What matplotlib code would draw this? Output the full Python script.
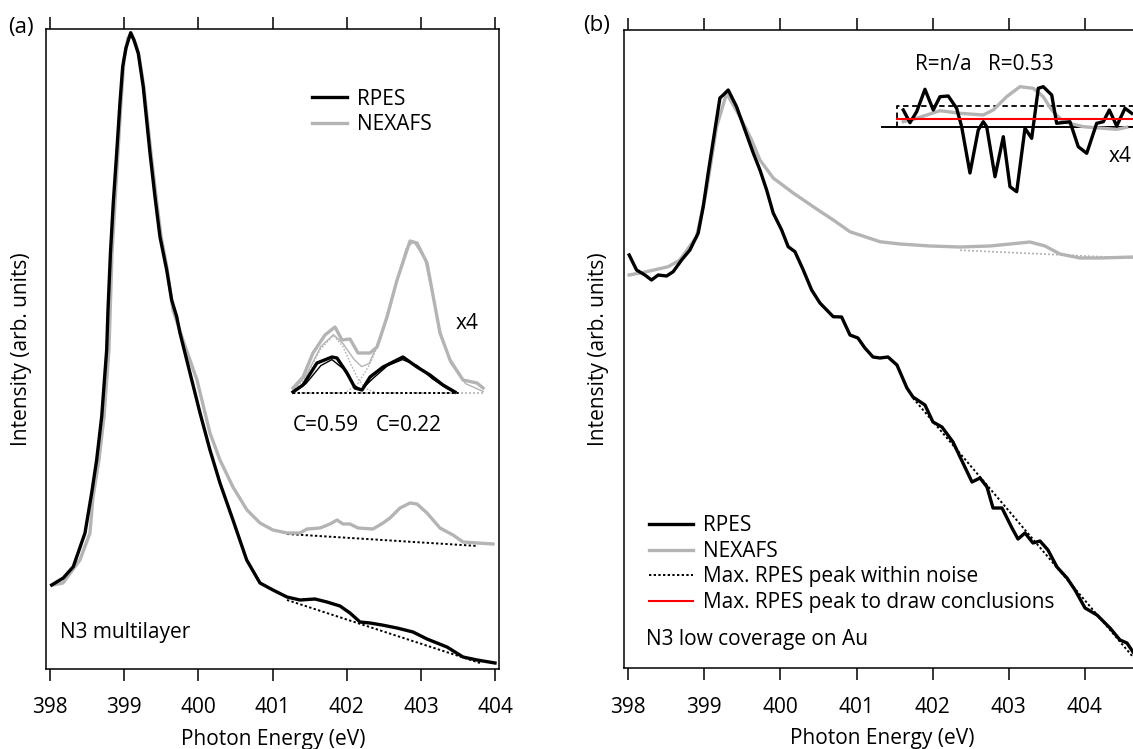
import matplotlib
matplotlib.use('Agg')
import matplotlib.pyplot as plt

plt.rcParams['font.family'] = ['Open Sans', 'DejaVu Sans']
plt.rcParams['font.size'] = 15

GRAY = '#b4b4b4'

# ---------------- panel (a): N3 multilayer ----------------
a_rpes_e = [398.023, 398.179, 398.314, 398.472, 398.562, 398.629, 398.697, 398.764, 398.782,
            398.815, 398.853, 398.899, 398.943, 398.980, 399.024, 399.088, 399.132, 399.190,
            399.257, 399.348, 399.415, 399.482, 399.573, 399.640, 399.708, 399.752, 399.887,
            400.022, 400.156, 400.291, 400.466, 400.651, 400.830, 401.005, 401.194, 401.369,
            401.571, 401.733, 401.908, 402.043, 402.178, 402.313, 402.474, 402.677, 402.892,
            403.081, 403.350, 403.566, 403.755, 403.997]
a_rpes_i = [83.6, 90.6, 101.9, 135.6, 175.6, 208.6, 251.9, 318.6, 358.6,
            415.6, 465.6, 515.6, 565.6, 601.9, 620.6, 635.9, 628.6, 615.3,
            581.9, 515.6, 471.9, 431.9, 398.6, 368.6, 351.9, 335.6, 295.6,
            255.6, 218.6, 185.6, 148.6, 108.6, 85.6, 78.6, 71.6, 68.6,
            69.6, 66.6, 62.6, 55.6, 46.6, 45.6, 43.6, 40.6, 36.6,
            29.6, 21.6, 11.6, 8.6, 5.6]

a_nex_e = [398.040, 398.175, 398.404, 398.539, 398.580, 398.660, 398.728, 398.795, 398.836,
           398.876, 398.916, 398.957, 398.997, 399.051, 399.092, 399.146, 399.199, 399.267,
           399.361, 399.429, 399.496, 399.577, 399.658, 399.792, 399.981, 400.156, 400.291,
           400.466, 400.655, 400.830, 401.005, 401.194, 401.369, 401.464, 401.639, 401.774,
           401.868, 401.949, 402.043, 402.151, 402.353, 402.488, 402.582, 402.717, 402.852,
           402.946, 403.081, 403.256, 403.431, 403.566, 403.755, 403.970]
a_nex_i = [83.6, 85.6, 108.6, 135.6, 171.6, 208.6, 251.6, 318.6, 415.6,
           465.6, 515.6, 565.6, 608.6, 630.6, 634.6, 626.6, 613.6, 580.6,
           515.6, 472.6, 432.6, 400.6, 358.6, 328.6, 288.6, 235.6, 208.6,
           181.6, 158.6, 145.6, 138.6, 135.6, 135.6, 139.6, 140.6, 144.6,
           148.6, 144.6, 144.6, 140.6, 139.6, 145.6, 150.6, 160.6, 165.6,
           164.6, 155.6, 140.6, 133.6, 126.6, 125.6, 124.6]

a_nex_base_e = [401.194, 403.768]
a_nex_base_i = [134.6, 122.6]
a_rpes_base_e = [401.194, 403.795]
a_rpes_base_i = [68.6, 5.6]

# inset (x4 difference spectra)
a_ins_base_e = [401.275, 403.836]
a_ins_base_i = [275.9, 275.9]

a_ins_nex_e = [401.275, 401.410, 401.544, 401.706, 401.841, 401.935, 402.043, 402.151, 402.313,
               402.407, 402.542, 402.677, 402.852, 402.946, 403.081, 403.256, 403.391, 403.566,
               403.755, 403.836]
a_ins_nex_i = [280.6, 291.6, 315.6, 333.6, 341.6, 328.6, 329.6, 315.6, 315.6,
               321.6, 351.6, 388.6, 427.6, 425.6, 405.6, 335.6, 308.6, 288.6,
               285.6, 280.6]
a_ins_nex_fit_e = [401.275, 401.45, 401.65, 401.82, 401.95, 402.1, 402.2, 402.3, 402.45,
                   402.6, 402.8, 402.9, 403.05, 403.25, 403.4, 403.6, 403.84]
a_ins_nex_fit_i = [279, 293, 322, 334, 325, 309, 302, 305, 330,
                   370, 420, 427, 410, 340, 305, 285, 277]
a_ins_nex_c1_e = [401.275, 401.45, 401.65, 401.82, 401.95, 402.05, 402.15, 402.25, 402.4]
a_ins_nex_c1_i = [277, 292, 320, 333, 322, 305, 290, 280, 276]
a_ins_nex_c2_e = [402.0, 402.15, 402.3, 402.45, 402.6]
a_ins_nex_c2_i = [277, 285, 303, 328, 365]

a_ins_rpes_e = [401.275, 401.410, 401.598, 401.801, 401.868, 402.003, 402.111, 402.205, 402.313,
                402.488, 402.757, 402.946, 403.121, 403.296, 403.458]
a_ins_rpes_i = [276.6, 283.6, 305.6, 311.6, 310.6, 295.6, 280.6, 278.6, 291.6,
                301.6, 311.6, 301.6, 293.6, 283.6, 276.6]
a_ins_rpes_fit_e = [401.275, 401.45, 401.65, 401.8, 401.95, 402.1, 402.2, 402.35, 402.55,
                    402.75, 402.95, 403.15, 403.35, 403.46]
a_ins_rpes_fit_i = [276, 285, 303, 309, 300, 283, 279, 290, 303,
                    309, 303, 290, 280, 276]

# ---------------- panel (b): N3 low coverage on Au ----------------
b_rpes_e = [398.013, 398.110, 398.219, 398.307, 398.394, 398.505, 398.591, 398.702, 398.811,
            398.920, 398.986, 399.051, 399.139, 399.205, 399.248, 399.314, 399.424, 399.534,
            399.643, 399.731, 399.819, 399.905, 400.016, 400.102, 400.191, 400.300, 400.410,
            400.519, 400.694, 400.804, 400.914, 401.018, 401.110, 401.216, 401.308, 401.413,
            401.531, 401.662, 401.741, 401.899, 402.004, 402.122, 402.267, 402.398, 402.517,
            402.622, 402.714, 402.793, 402.911, 403.042, 403.121, 403.213, 403.318, 403.410,
            403.515, 403.633, 403.765, 403.870, 404.002, 404.159, 404.330, 404.461, 404.553,
            404.632]
b_rpes_i = [413.2, 398.2, 393.2, 388.2, 393.2, 392.2, 396.5, 408.2, 418.2,
            435.2, 461.5, 495.2, 538.2, 570.2, 573.2, 578.2, 561.5, 538.2,
            515.2, 498.2, 478.2, 455.2, 438.2, 421.5, 416.5, 398.2, 378.2,
            365.2, 351.5, 351.2, 333.2, 330.2, 320.2, 311.2, 310.2, 311.2,
            303.2, 280.2, 271.2, 263.2, 246.2, 241.2, 226.2, 205.2, 186.2,
            190.2, 181.2, 160.2, 160.2, 140.2, 129.2, 135.2, 125.2, 127.2,
            118.2, 101.2, 90.2, 78.2, 60.2, 53.2, 40.2, 28.2, 25.2,
            16.2]

b_nex_e = [398.013, 398.242, 398.526, 398.679, 398.899, 399.030, 399.162, 399.293, 399.468,
           399.622, 399.731, 399.905, 400.168, 400.431, 400.694, 400.913, 401.307, 401.570,
           401.965, 402.359, 402.753, 403.016, 403.279, 403.476, 403.673, 403.936, 404.199,
           404.632]
b_nex_i = [393.2, 396.5, 401.5, 408.2, 431.5, 478.2, 541.5, 574.9, 551.5,
           528.2, 508.2, 490.2, 475.2, 461.5, 448.2, 436.5, 426.5, 424.2,
           422.2, 421.2, 422.2, 424.2, 426.2, 422.2, 414.2, 410.2, 410.2,
           411.2]

b_nex_base_e = [402.36, 404.63]
b_nex_base_i = [418.0, 410.0]
b_rpes_base_e = [401.741, 404.632]
b_rpes_base_i = [270.2, 11.2]

# inset
b_ins_base_e = [401.330, 404.75]
b_ins_base_i = [540.9, 540.9]
b_ins_red_e = [401.527, 404.75]
b_ins_red_i = [549.2, 549.2]
b_ins_noise_e = [401.527, 401.527, 404.75]
b_ins_noise_i = [540.9, 562.2, 562.2]

b_ins_rpes_e = [401.614, 401.702, 401.790, 401.899, 402.008, 402.096, 402.205, 402.315, 402.381,
                402.490, 402.599, 402.665, 402.710, 402.819, 402.928, 403.016, 403.104, 403.213,
                403.301, 403.388, 403.453, 403.564, 403.629, 403.804, 403.913, 404.024, 404.155,
                404.242, 404.321, 404.418, 404.527, 404.615]
b_ins_rpes_i = [558.2, 545.5, 556.5, 578.9, 558.2, 571.5, 572.2, 559.9, 541.5,
                495.2, 538.2, 546.5, 541.5, 491.5, 531.5, 481.5, 476.5, 539.9,
                529.9, 579.9, 581.5, 573.2, 544.9, 546.5, 521.5, 514.9, 544.9,
                546.5, 558.2, 542.2, 559.9, 554.9]
b_ins_nex_e = [401.614, 401.790, 402.096, 402.359, 402.665, 402.796, 402.972, 403.147, 403.322,
               403.453, 403.564, 403.716, 403.979, 404.242, 404.418, 404.549]
b_ins_nex_i = [546.5, 549.9, 557.5, 554.9, 553.2, 558.2, 571.5, 581.5, 579.9,
               571.5, 558.2, 546.5, 541.5, 539.9, 538.9, 540.9]

DOT = (0, (1.2, 1.2))


def style_axis(ax, xlim, ylim):
    ax.set_xlim(*xlim)
    ax.set_ylim(*ylim)
    ax.set_xticks([398, 399, 400, 401, 402, 403, 404])
    ax.set_yticks([])
    ax.tick_params(axis='x', which='both', direction='out', length=8.5, width=1.1,
                   top=True, labeltop=False, pad=12)
    for sp in ax.spines.values():
        sp.set_linewidth(1.1)
    ax.set_xlabel('Photon Energy (eV)')
    ax.xaxis.set_label_coords(0.5, -0.094)
    ax.set_ylabel('Intensity (arb. units)')


fig = plt.figure(figsize=(11.33, 7.49), dpi=100)

# ---- (a)
ax1 = fig.add_axes([0.04095, 0.10734, 0.39974, 0.85394])
style_axis(ax1, (397.952, 404.055), (0, 639.6))
ax1.yaxis.set_label_coords(-0.032, 0.5)

ax1.plot(a_nex_base_e, a_nex_base_i, color='black', lw=1.4, ls=DOT)
ax1.plot(a_rpes_base_e, a_rpes_base_i, color='black', lw=1.4, ls=DOT)
l_nex, = ax1.plot(a_nex_e, a_nex_i, color=GRAY, lw=2.4, label='NEXAFS')
l_rpes, = ax1.plot(a_rpes_e, a_rpes_i, color='black', lw=2.4, label='RPES')

ax1.plot(a_ins_base_e, a_ins_base_i, color=GRAY, lw=1.2, ls=DOT)
ax1.plot(a_ins_nex_c1_e, a_ins_nex_c1_i, color=GRAY, lw=1.0, ls=DOT)
ax1.plot(a_ins_nex_c2_e, a_ins_nex_c2_i, color=GRAY, lw=1.0, ls=DOT)
ax1.plot(a_ins_nex_fit_e, a_ins_nex_fit_i, color=GRAY, lw=1.0)
ax1.plot(a_ins_nex_e, a_ins_nex_i, color=GRAY, lw=2.4)
ax1.plot([401.275, 403.52], [275.9, 275.9], color='black', lw=1.4, ls=DOT)
ax1.plot(a_ins_rpes_fit_e, a_ins_rpes_fit_i, color='black', lw=1.0)
ax1.plot(a_ins_rpes_e, a_ins_rpes_i, color='black', lw=2.4)

ax1.text(403.47, 345.6, 'x4', va='center', ha='left')
ax1.text(401.275, 243.6, 'C=0.59', va='center', ha='left')
ax1.text(402.39, 243.6, 'C=0.22', va='center', ha='left')
ax1.text(0.03, 0.057, 'N3 multilayer', transform=ax1.transAxes, va='center', ha='left')

ax1.legend(handles=[l_rpes, l_nex], loc='upper left', bbox_to_anchor=(0.563, 0.923),
           frameon=False, borderpad=0, handlelength=1.7, handletextpad=0.45,
           labelspacing=0.2)

# ---- (b)
ax2 = fig.add_axes([0.55075, 0.10788, 0.45543, 0.85207])
style_axis(ax2, (397.945, 404.724), (0, 638.2))
ax2.yaxis.set_label_coords(-0.029, 0.5)

ax2.plot(b_nex_base_e, b_nex_base_i, color=GRAY, lw=1.2, ls=DOT)
ax2.plot(b_nex_e, b_nex_i, color=GRAY, lw=2.4)
ax2.plot(b_rpes_base_e, b_rpes_base_i, color='black', lw=1.4, ls=DOT)
ax2.plot(b_rpes_e, b_rpes_i, color='black', lw=2.4)

ax2.plot(b_ins_base_e, b_ins_base_i, color='black', lw=1.4)
ax2.plot(b_ins_noise_e, b_ins_noise_i, color='black', lw=1.3, ls=(0, (3, 2)))
ax2.plot(b_ins_nex_e, b_ins_nex_i, color=GRAY, lw=2.4)
ax2.plot(b_ins_rpes_e, b_ins_rpes_i, color='black', lw=2.4)
ax2.plot(b_ins_red_e, b_ins_red_i, color='red', lw=1.5)

ax2.text(401.767, 603.2, 'R=n/a', va='center', ha='left')
ax2.text(402.731, 603.2, 'R=0.53', va='center', ha='left')
ax2.text(404.307, 511.5, 'x4', va='center', ha='left')
ax2.text(0.0426, 0.045, 'N3 low coverage on Au', transform=ax2.transAxes,
         va='center', ha='left')

h = [plt.Line2D([], [], color='black', lw=2.4),
     plt.Line2D([], [], color=GRAY, lw=2.4),
     plt.Line2D([], [], color='black', lw=1.4, ls=DOT),
     plt.Line2D([], [], color='red', lw=1.5)]
ax2.legend(h, ['RPES', 'NEXAFS', 'Max. RPES peak within noise',
               'Max. RPES peak to draw conclusions'],
           loc='upper left', bbox_to_anchor=(0.028, 0.256), frameon=False, borderpad=0,
           handlelength=2.1, handletextpad=0.5, labelspacing=0.22)

fig.text(0.007, 0.963, '(a)', va='center', ha='left', fontsize=16)
fig.text(0.5145, 0.966, '(b)', va='center', ha='left', fontsize=16)

fig.savefig('out.png', dpi=100)
